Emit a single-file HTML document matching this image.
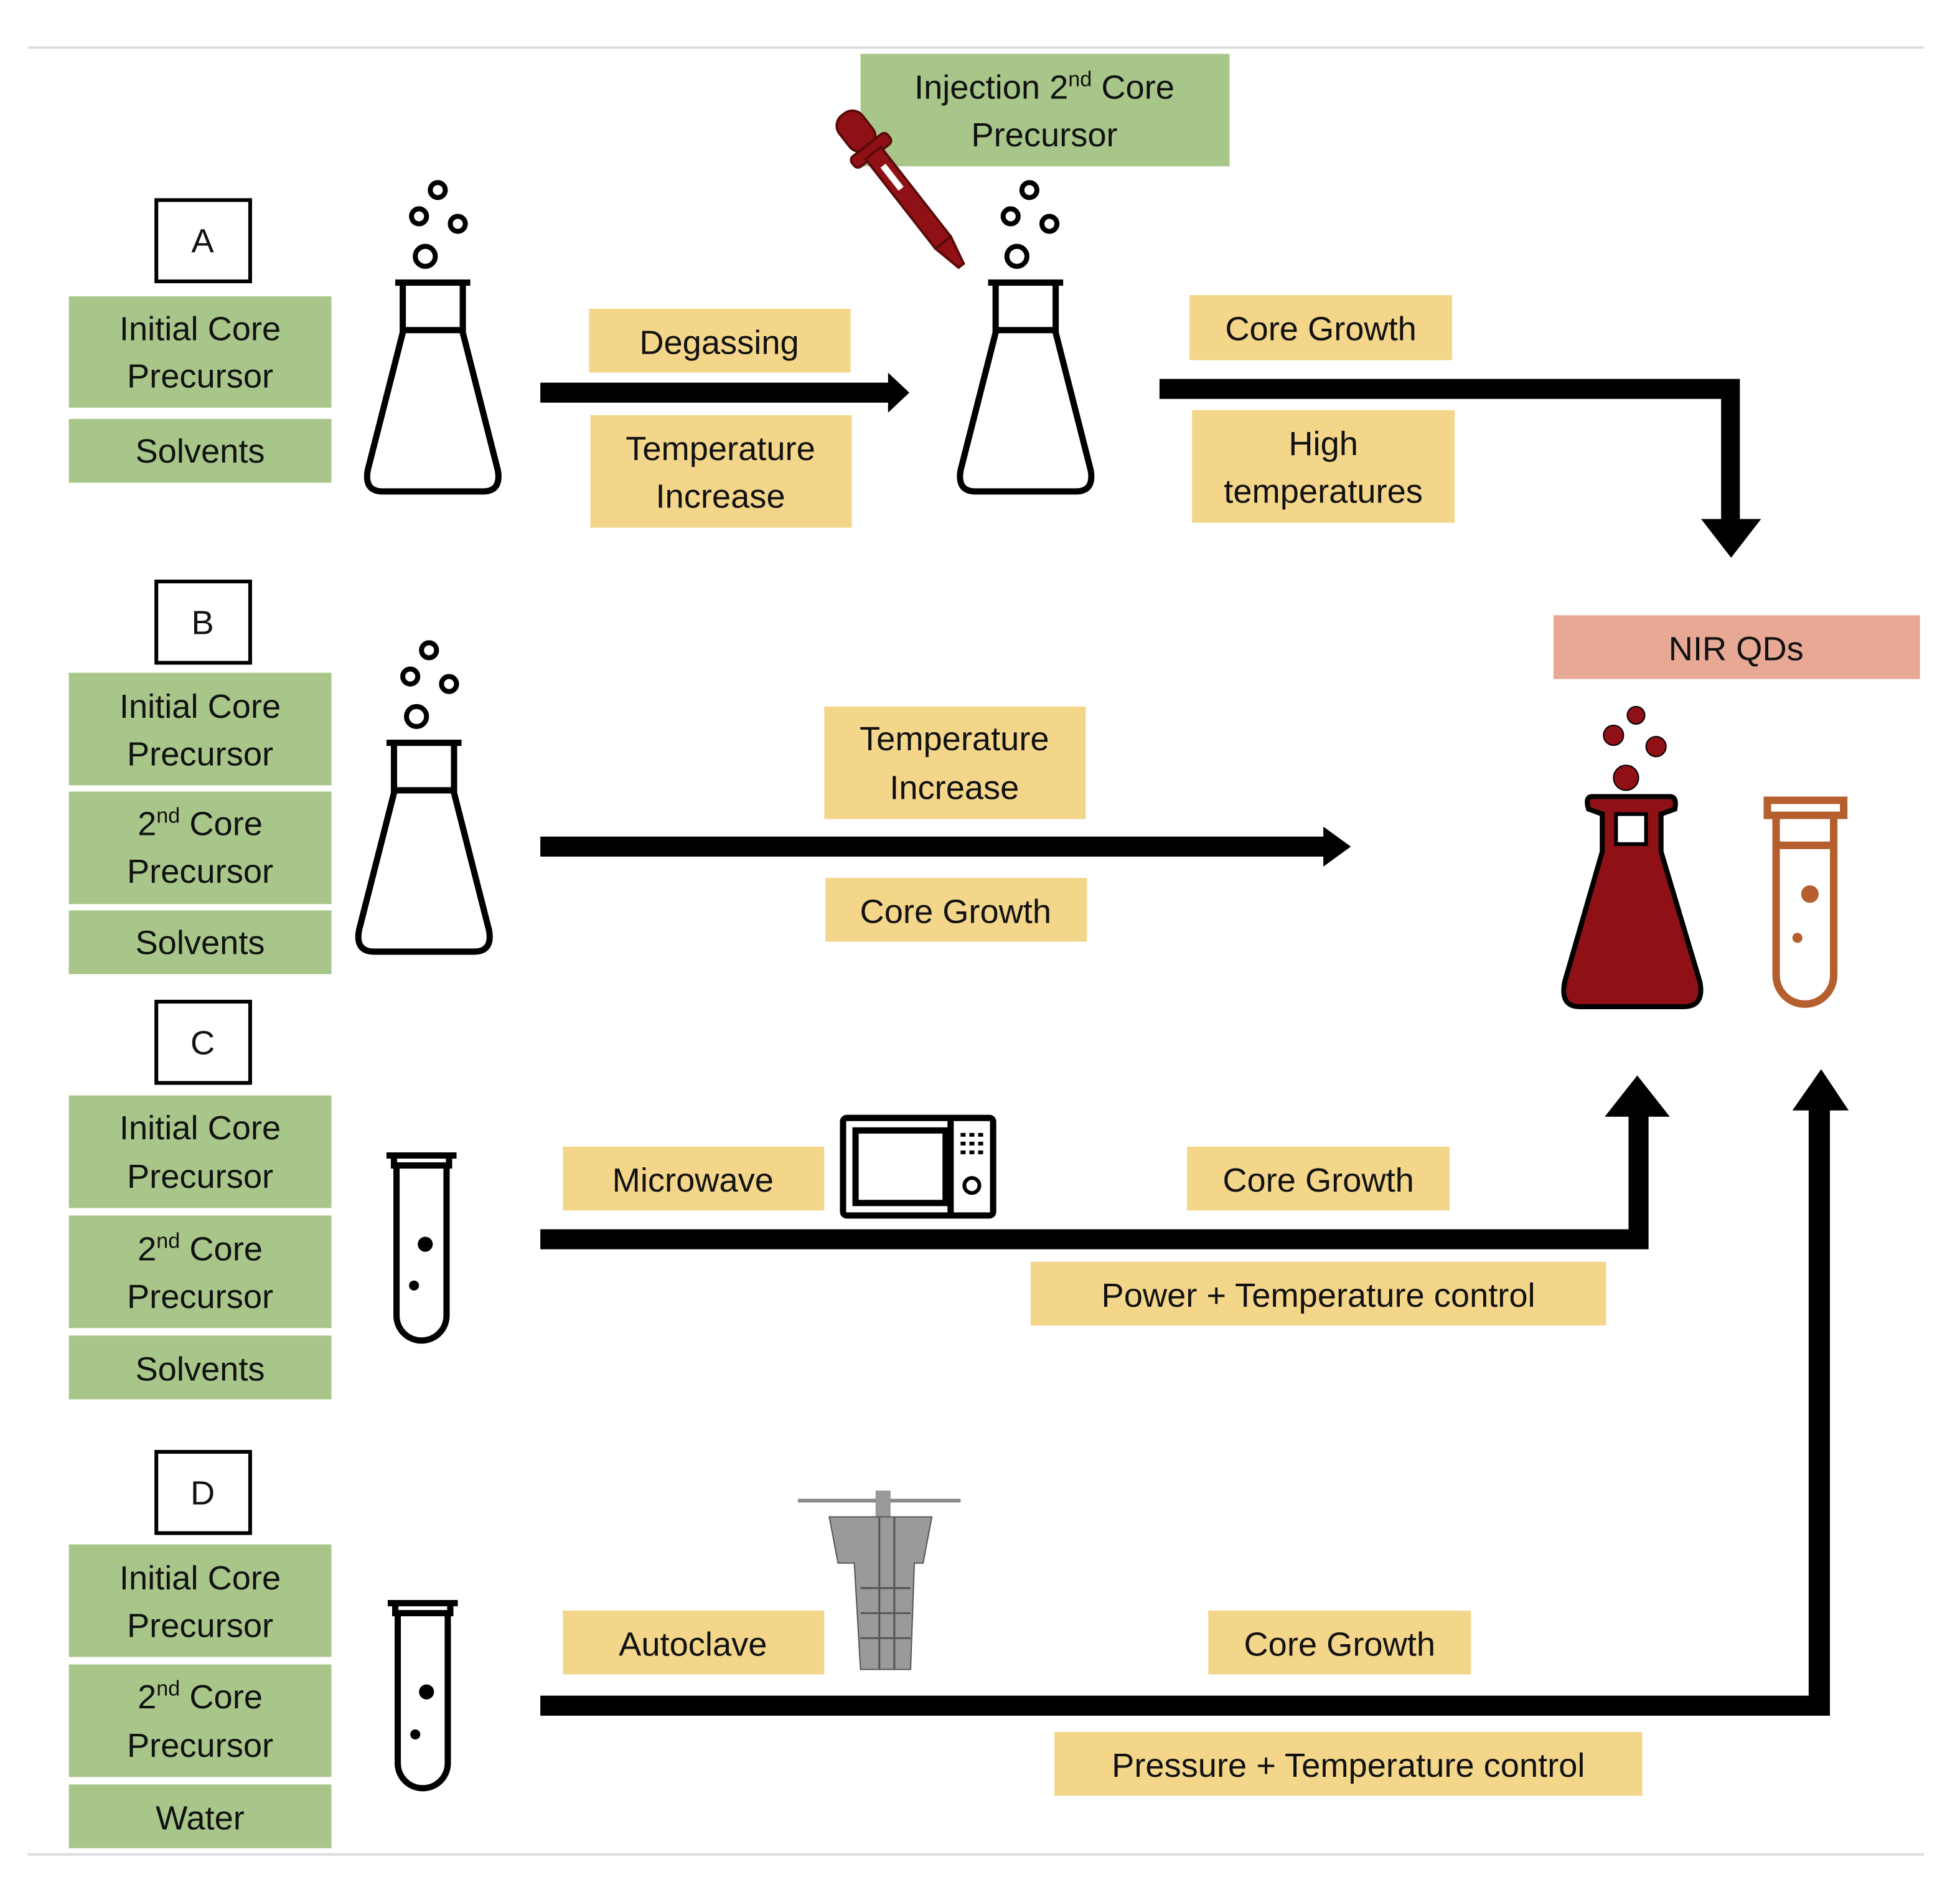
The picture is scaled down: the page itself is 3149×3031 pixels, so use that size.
<!DOCTYPE html>
<html><head><meta charset="utf-8"><style>
html,body{margin:0;padding:0;background:#fff}
svg{display:block}
text{font-family:"Liberation Sans",sans-serif;font-size:27px;fill:#111;text-anchor:middle}
.g{fill:#a8c68a}
.y{fill:#f3d68a}
</style></head><body>
<svg width="3149" height="3031" viewBox="0 0 1567 1509" preserveAspectRatio="none" xmlns="http://www.w3.org/2000/svg">
<defs>
<g id="flask" fill="none" stroke="#000" stroke-width="5" stroke-linejoin="round">
<path d="M22,0 H82 M28,0 V40 L0,150 Q-3,167 12,167 H92 Q107,167 104,150 L76,40 V0 M28,38 H76"/>
</g>
<g id="bub" fill="none" stroke="#000" stroke-width="4">
<circle cx="15" cy="0" r="6"/><circle cx="0" cy="21" r="6"/><circle cx="31" cy="27" r="6"/><circle cx="5" cy="53" r="8"/>
</g>
<g id="tube" fill="none" stroke="#000" stroke-width="5">
<path d="M2,2 H58 M8,2 V10 H52 V2 M10,10 V130 A20,20 0 0 0 50,130 V10"/>
</g>
</defs>
<line x1="22" y1="38" x2="1538" y2="38" stroke="#ddd" stroke-width="2"/>
<line x1="22" y1="1483" x2="1538" y2="1483" stroke="#ddd" stroke-width="2"/>

<g fill="#fff" stroke="#000" stroke-width="3">
<rect x="125" y="160" width="75" height="65"/>
<rect x="125" y="465" width="75" height="65"/>
<rect x="125" y="801" width="75" height="65"/>
<rect x="125" y="1161" width="75" height="65"/>
</g>
<text x="162" y="202">A</text><text x="162" y="507">B</text><text x="162" y="843">C</text><text x="162" y="1203">D</text>

<rect class="g" x="55" y="237" width="210" height="89"/><text x="160" y="272">Initial Core</text><text x="160" y="310">Precursor</text>
<rect class="g" x="55" y="335" width="210" height="51"/><text x="160" y="370">Solvents</text>

<rect class="g" x="55" y="538" width="210" height="90"/><text x="160" y="574">Initial Core</text><text x="160" y="612">Precursor</text>
<rect class="g" x="55" y="633" width="210" height="90"/><text x="160" y="668">2<tspan font-size="17" dy="-10">nd</tspan><tspan dy="10"> Core</tspan></text><text x="160" y="706">Precursor</text>
<rect class="g" x="55" y="728" width="210" height="51"/><text x="160" y="763">Solvents</text>

<rect class="g" x="55" y="876" width="210" height="90"/><text x="160" y="911">Initial Core</text><text x="160" y="950">Precursor</text>
<rect class="g" x="55" y="972" width="210" height="90"/><text x="160" y="1008">2<tspan font-size="17" dy="-10">nd</tspan><tspan dy="10"> Core</tspan></text><text x="160" y="1046">Precursor</text>
<rect class="g" x="55" y="1068" width="210" height="51"/><text x="160" y="1104">Solvents</text>

<rect class="g" x="55" y="1235" width="210" height="90"/><text x="160" y="1271">Initial Core</text><text x="160" y="1309">Precursor</text>
<rect class="g" x="55" y="1331" width="210" height="90"/><text x="160" y="1366">2<tspan font-size="17" dy="-10">nd</tspan><tspan dy="10"> Core</tspan></text><text x="160" y="1405">Precursor</text>
<rect class="g" x="55" y="1427" width="210" height="51"/><text x="160" y="1463">Water</text>

<rect class="g" x="688" y="43" width="295" height="90"/><text x="835" y="79">Injection 2<tspan font-size="17" dy="-10">nd</tspan><tspan dy="10"> Core</tspan></text><text x="835" y="117">Precursor</text>

<rect class="y" x="471" y="247" width="209" height="51"/><text x="575" y="283">Degassing</text>
<rect class="y" x="472" y="332" width="209" height="90"/><text x="576" y="368">Temperature</text><text x="576" y="406">Increase</text>
<rect class="y" x="951" y="236" width="210" height="52"/><text x="1056" y="272">Core Growth</text>
<rect class="y" x="953" y="328" width="210" height="90"/><text x="1058" y="364">High</text><text x="1058" y="402">temperatures</text>
<rect class="y" x="659" y="565" width="209" height="90"/><text x="763" y="600">Temperature</text><text x="763" y="639">Increase</text>
<rect class="y" x="660" y="702" width="209" height="51"/><text x="764" y="738">Core Growth</text>
<rect class="y" x="450" y="917" width="209" height="51"/><text x="554" y="953">Microwave</text>
<rect class="y" x="949" y="917" width="210" height="51"/><text x="1054" y="953">Core Growth</text>
<rect class="y" x="824" y="1009" width="460" height="51"/><text x="1054" y="1045">Power + Temperature control</text>
<rect class="y" x="450" y="1288" width="209" height="51"/><text x="554" y="1324">Autoclave</text>
<rect class="y" x="966" y="1288" width="210" height="51"/><text x="1071" y="1324">Core Growth</text>
<rect class="y" x="843" y="1385" width="470" height="51"/><text x="1078" y="1421">Pressure + Temperature control</text>

<rect x="1242" y="492" width="293" height="51" fill="#e7a894"/><text x="1388" y="528">NIR QDs</text>

<use href="#flask" x="294" y="226"/><use href="#bub" x="335" y="152"/>
<use href="#flask" x="768" y="226"/><use href="#bub" x="808" y="152"/>
<use href="#flask" x="287" y="594"/><use href="#bub" x="328" y="520"/>
<use href="#tube" x="307" y="922"/><circle cx="340" cy="995" r="6"/><circle cx="331" cy="1028" r="4"/>
<use href="#tube" x="308" y="1280"/><circle cx="341" cy="1353" r="6"/><circle cx="332" cy="1387" r="4"/>

<g transform="translate(722,153) rotate(-38) scale(1.3)" fill="#8f1116" stroke="#5a0a0a" stroke-width="1.5">
<rect x="-9" y="-60" width="18" height="26" rx="8"/>
<rect x="-14" y="-36" width="28" height="8" rx="3"/>
<rect x="-6" y="-30" width="12" height="70"/>
<path d="M-6,40 L-2,58 H2 L6,40Z"/>
<rect x="-2" y="-20" width="4" height="18" fill="#fff" stroke="none"/>
</g>

<g transform="translate(1251,637)">
<path d="M22,0 H84 Q90,0 88,10 L77,14 V44 L108,148 Q112,168 95,168 H12 Q-4,168 0,148 L30,44 V14 L19,10 Q16,0 22,0Z" fill="#8f1116" stroke="#000" stroke-width="4"/>
<rect x="41" y="14" width="24" height="24" fill="#fff" stroke="#000" stroke-width="3"/>
</g>
<g fill="#8f1116" stroke="#000" stroke-width="1"><circle cx="1308" cy="572" r="7"/><circle cx="1290" cy="588" r="8"/><circle cx="1324" cy="597" r="8"/><circle cx="1300" cy="622" r="10"/></g>
<g fill="none" stroke="#b55f2e" stroke-width="6">
<path d="M1413,640 H1474 V652 H1413Z M1420,652 V780 A22,22 0 0 0 1466,780 V652 M1420,676 H1466"/>
</g>
<circle cx="1447" cy="715" r="7" fill="#b55f2e"/><circle cx="1437" cy="750" r="4" fill="#b55f2e"/>

<g fill="none" stroke="#000" stroke-width="5">
<rect x="674" y="894" width="120" height="78" rx="3"/>
<rect x="684" y="904" width="72" height="58"/>
<line x1="760" y1="894" x2="760" y2="972"/>
<circle cx="777" cy="948" r="6" stroke-width="3"/>
</g>
<g fill="#000"><rect x="768" y="906" width="4" height="3"/><rect x="775" y="906" width="4" height="3"/><rect x="782" y="906" width="4" height="3"/><rect x="768" y="913" width="4" height="3"/><rect x="775" y="913" width="4" height="3"/><rect x="782" y="913" width="4" height="3"/><rect x="768" y="920" width="4" height="3"/><rect x="775" y="920" width="4" height="3"/><rect x="782" y="920" width="4" height="3"/></g>

<g>
<line x1="638" y1="1200" x2="768" y2="1200" stroke="#888" stroke-width="3"/>
<rect x="700" y="1192" width="12" height="22" fill="#999"/>
<path d="M663,1213 L745,1213 L738,1250 H731 L728,1335 H688 L683,1250 H670Z" fill="#9a9a9a" stroke="#555" stroke-width="1"/>
<g stroke="#555" stroke-width="1.5"><line x1="688" y1="1270" x2="728" y2="1270"/><line x1="688" y1="1290" x2="728" y2="1290"/><line x1="688" y1="1310" x2="728" y2="1310"/><line x1="703" y1="1213" x2="703" y2="1335"/><line x1="715" y1="1213" x2="715" y2="1335"/></g>
</g>

<g fill="#000">
<rect x="432" y="306" width="282" height="16"/><path d="M710,298 L727,314 L710,330Z"/>
<path d="M927,303 H1391 V415 H1408 L1384,446 L1360,415 H1376 V319 H927Z"/>
<rect x="432" y="669" width="630" height="16"/><path d="M1058,661 L1080,677 L1058,693Z"/>
<path d="M432,983 H1302 V893 H1283 L1309,860 L1335,893 H1318 V999 H432Z"/>
<path d="M432,1356 H1446 V888 H1433 L1456,855 L1478,888 H1463 V1372 H432Z"/>
</g>
</svg>
</body></html>
